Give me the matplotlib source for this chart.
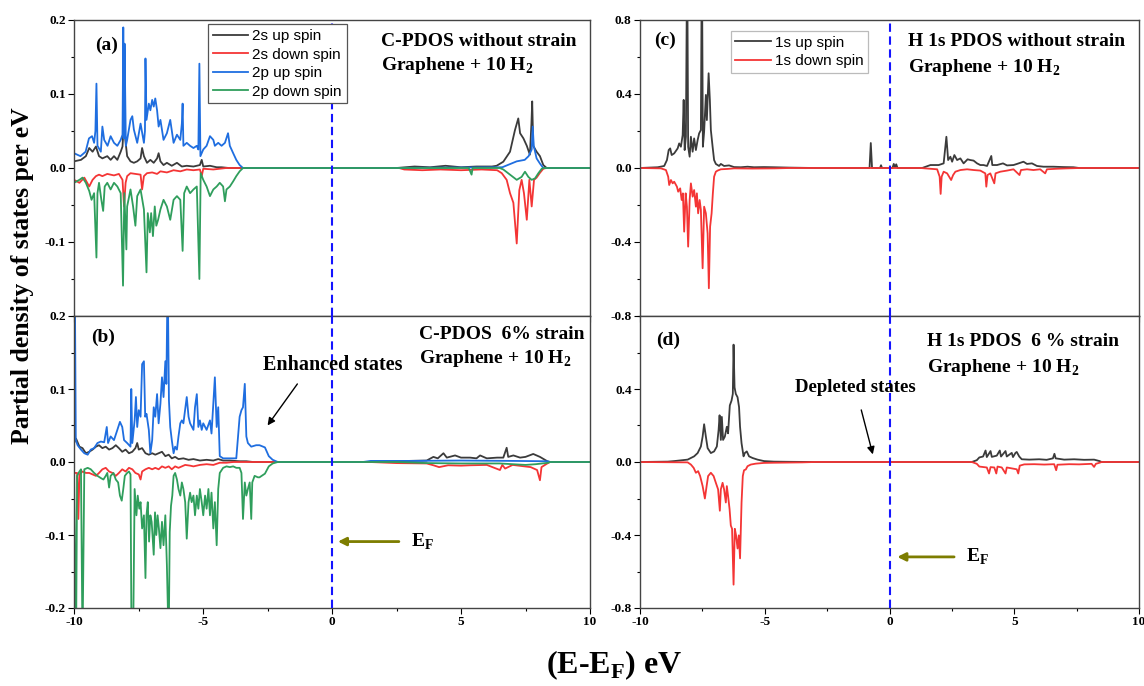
import numpy as np
import matplotlib
matplotlib.use("Agg")
import matplotlib.pyplot as plt
from matplotlib.ticker import MultipleLocator, FixedLocator

plt.rcParams['font.family'] = ['Liberation Serif', 'DejaVu Serif']
plt.rcParams['font.weight'] = 'bold'
plt.rcParams['axes.unicode_minus'] = False
plt.rcParams['mathtext.fontset'] = 'custom'
plt.rcParams['mathtext.rm'] = 'Liberation Serif:bold'
plt.rcParams['mathtext.bf'] = 'Liberation Serif:bold'

# ---- data (energy in eV, PDOS per eV) ----
# panel (a): C PDOS, no strain
a_2s_up = [(-10.0, 0.009), (-9.73, 0.011), (-9.54, 0.016), (-9.41, 0.027), (-9.28, 0.022), (-9.15, 0.029),
           (-9.03, 0.016), (-8.9, 0.013), (-8.71, 0.016), (-8.58, 0.011), (-8.45, 0.016), (-8.32, 0.011),
           (-8.19, 0.022), (-8.12, 0.029), (-8.06, 0.065), (-8.01, 0.038), (-7.94, 0.016), (-7.81, 0.009),
           (-7.68, 0.007), (-7.55, 0.009), (-7.42, 0.013), (-7.36, 0.027), (-7.29, 0.016), (-7.17, 0.007),
           (-7.04, 0.011), (-6.91, 0.007), (-6.78, 0.013), (-6.72, 0.020), (-6.65, 0.009), (-6.53, 0.004),
           (-6.4, 0.007), (-6.21, 0.003), (-6.01, 0.007), (-5.82, 0.002), (-5.63, 0.003), (-5.37, 0.002),
           (-5.12, 0.004), (-5.05, 0.011), (-4.99, 0.002), (-4.73, 0.003), (-4.47, 0.001), (-4.28, 0.001),
           (-4.0, 0.0), (2.5, 0.0), (3.2, 0.002), (3.8, 0.001), (4.4, 0.003), (5.0, 0.001), (5.6, 0.002),
           (6.2, 0.002), (6.38, 0.003), (6.64, 0.0085), (6.9, 0.022), (7.09, 0.051), (7.22, 0.067),
           (7.29, 0.047), (7.42, 0.040), (7.55, 0.030), (7.67, 0.018), (7.73, 0.060), (7.76, 0.090),
           (7.8, 0.030), (7.93, 0.022), (8.06, 0.016), (8.19, 0.004), (8.32, 0.0), (10.0, 0.0)]
a_2s_down = [(-10.0, -0.016), (-9.79, -0.020), (-9.6, -0.013), (-9.41, -0.025), (-9.28, -0.016), (-9.15, -0.011),
             (-9.03, -0.009), (-8.9, -0.011), (-8.71, -0.008), (-8.45, -0.010), (-8.26, -0.008), (-8.12, -0.016),
             (-8.06, -0.052), (-8.0, -0.020), (-7.94, -0.011), (-7.81, -0.007), (-7.62, -0.008), (-7.42, -0.009),
             (-7.36, -0.029), (-7.29, -0.011), (-7.17, -0.007), (-6.97, -0.006), (-6.78, -0.008), (-6.65, -0.0045),
             (-6.4, -0.006), (-6.14, -0.003), (-5.88, -0.0045), (-5.63, -0.002), (-5.37, -0.003), (-5.12, -0.002),
             (-5.05, -0.011), (-4.99, -0.001), (-4.6, -0.002), (-4.35, -0.001), (-4.1, 0.0), (2.6, 0.0),
             (2.8, -0.002), (3.5, -0.003), (4.2, -0.002), (5.0, -0.003), (5.8, -0.002), (6.4, -0.003),
             (6.58, -0.007), (6.77, -0.016), (6.9, -0.034), (7.03, -0.047), (7.16, -0.102), (7.26, -0.030),
             (7.35, -0.016), (7.44, -0.034), (7.55, -0.070), (7.65, -0.016), (7.74, -0.052), (7.83, -0.016),
             (7.93, -0.013), (8.06, -0.0065), (8.19, -0.001), (8.3, 0.0), (10.0, 0.0)]
a_2p_up = [(-10.0, 0.020), (-9.75, 0.016), (-9.55, 0.022), (-9.42, 0.040), (-9.3, 0.043), (-9.22, 0.034),
           (-9.17, 0.050), (-9.13, 0.114), (-9.09, 0.030), (-8.96, 0.022), (-8.9, 0.056), (-8.83, 0.038),
           (-8.7, 0.030), (-8.58, 0.043), (-8.45, 0.034), (-8.32, 0.030), (-8.19, 0.038), (-8.12, 0.045),
           (-8.09, 0.190), (-8.06, 0.040), (-8.04, 0.168), (-7.99, 0.030), (-7.94, 0.038), (-7.81, 0.065),
           (-7.74, 0.070), (-7.68, 0.052), (-7.55, 0.034), (-7.42, 0.060), (-7.29, 0.034), (-7.25, 0.050),
           (-7.23, 0.148), (-7.19, 0.065), (-7.1, 0.087), (-7.04, 0.078), (-6.97, 0.092), (-6.91, 0.083),
           (-6.85, 0.094), (-6.78, 0.078), (-6.72, 0.056), (-6.65, 0.065), (-6.53, 0.038), (-6.4, 0.047),
           (-6.27, 0.065), (-6.14, 0.034), (-6.01, 0.045), (-5.88, 0.038), (-5.82, 0.060), (-5.79, 0.087),
           (-5.76, 0.030), (-5.63, 0.034), (-5.5, 0.030), (-5.37, 0.027), (-5.24, 0.030), (-5.18, 0.025),
           (-5.14, 0.141), (-5.1, 0.016), (-4.99, 0.025), (-4.86, 0.030), (-4.73, 0.043), (-4.6, 0.038),
           (-4.54, 0.030), (-4.41, 0.034), (-4.28, 0.030), (-4.15, 0.034), (-4.03, 0.047), (-3.96, 0.030),
           (-3.83, 0.020), (-3.71, 0.011), (-3.58, 0.004), (-3.45, 0.0), (2.0, 0.0), (6.6, 0.001),
           (7.16, 0.009), (7.47, 0.011), (7.62, 0.016), (7.74, 0.025), (7.78, 0.056), (7.82, 0.030),
           (7.93, 0.013), (8.06, 0.006), (8.19, 0.0), (10.0, 0.0)]
a_2p_down = [(-10.0, -0.020), (-9.79, -0.016), (-9.67, -0.013), (-9.54, -0.020), (-9.41, -0.031), (-9.32, -0.043),
             (-9.22, -0.034), (-9.13, -0.121), (-9.09, -0.034), (-9.03, -0.020), (-8.94, -0.043), (-8.87, -0.058),
             (-8.81, -0.025), (-8.71, -0.020), (-8.58, -0.029), (-8.45, -0.020), (-8.32, -0.025), (-8.19, -0.034),
             (-8.1, -0.159), (-8.05, -0.034), (-7.97, -0.110), (-7.94, -0.052), (-7.81, -0.029), (-7.71, -0.052),
             (-7.62, -0.078), (-7.55, -0.038), (-7.42, -0.029), (-7.29, -0.056), (-7.19, -0.141), (-7.14, -0.061),
             (-7.06, -0.087), (-7.01, -0.061), (-6.94, -0.092), (-6.87, -0.052), (-6.81, -0.078), (-6.74, -0.070),
             (-6.65, -0.056), (-6.53, -0.043), (-6.4, -0.052), (-6.27, -0.070), (-6.14, -0.043), (-6.01, -0.038),
             (-5.88, -0.043), (-5.79, -0.112), (-5.73, -0.034), (-5.63, -0.025), (-5.5, -0.034), (-5.37, -0.029),
             (-5.24, -0.025), (-5.14, -0.150), (-5.09, -0.007), (-4.99, -0.016), (-4.86, -0.025), (-4.73, -0.038),
             (-4.6, -0.029), (-4.47, -0.025), (-4.35, -0.020), (-4.22, -0.025), (-4.15, -0.045), (-4.09, -0.029),
             (-3.96, -0.025), (-3.83, -0.018), (-3.71, -0.011), (-3.58, -0.0045), (-3.45, 0.0), (5.3, 0.0),
             (5.41, -0.009), (5.45, 0.0), (6.5, 0.0), (6.64, -0.002), (6.9, -0.009), (7.16, -0.016),
             (7.35, -0.012), (7.48, -0.005), (7.61, -0.012), (7.74, -0.016), (7.87, -0.014), (8.0, -0.007),
             (8.13, -0.001), (8.2, 0.0), (10.0, 0.0)]

# panel (b): C PDOS, 6% strain
b_2s_up = [(-10.0, 0.026), (-9.92, 0.032), (-9.79, 0.021), (-9.67, 0.019), (-9.54, 0.012), (-9.41, 0.014),
           (-9.28, 0.017), (-9.15, 0.021), (-9.03, 0.023), (-8.9, 0.019), (-8.77, 0.021), (-8.64, 0.017),
           (-8.51, 0.019), (-8.38, 0.023), (-8.26, 0.019), (-8.13, 0.014), (-8.0, 0.017), (-7.87, 0.012),
           (-7.74, 0.014), (-7.62, 0.019), (-7.55, 0.026), (-7.49, 0.017), (-7.36, 0.019), (-7.23, 0.012),
           (-7.1, 0.010), (-6.97, 0.012), (-6.85, 0.010), (-6.72, 0.012), (-6.59, 0.014), (-6.46, 0.008),
           (-6.33, 0.010), (-6.21, 0.005), (-6.08, 0.007), (-5.95, 0.004), (-5.76, 0.005), (-5.56, 0.003),
           (-5.37, 0.004), (-5.12, 0.002), (-4.86, 0.003), (-4.6, 0.002), (-4.41, 0.004), (-4.22, 0.002),
           (-3.96, 0.002), (-3.58, 0.001), (-3.32, 0.001), (-3.06, 0.0), (1.47, 0.0), (2.5, 0.001),
           (3.0, 0.0015), (3.67, 0.002), (3.93, 0.007), (4.1, 0.005), (4.32, 0.012), (4.45, 0.006),
           (4.77, 0.009), (5.0, 0.006), (5.35, 0.006), (5.6, 0.005), (5.74, 0.009), (6.0, 0.005),
           (6.4, 0.006), (6.64, 0.006), (6.77, 0.0195), (6.83, 0.007), (7.03, 0.009), (7.29, 0.006),
           (7.5, 0.007), (7.8, 0.011), (8.06, 0.007), (8.3, 0.002), (8.39, 0.0), (10.0, 0.0)]
b_2s_down = [(-10.0, -0.015), (-9.88, -0.015), (-9.83, -0.078), (-9.79, -0.017), (-9.67, -0.013), (-9.54, -0.015),
             (-9.41, -0.015), (-9.28, -0.017), (-9.15, -0.019), (-9.03, -0.015), (-8.9, -0.010), (-8.77, -0.008),
             (-8.64, -0.013), (-8.51, -0.015), (-8.38, -0.019), (-8.26, -0.015), (-8.13, -0.010), (-8.0, -0.013),
             (-7.87, -0.008), (-7.74, -0.010), (-7.62, -0.015), (-7.49, -0.017), (-7.42, -0.024), (-7.36, -0.013),
             (-7.23, -0.010), (-7.1, -0.008), (-6.97, -0.010), (-6.85, -0.008), (-6.72, -0.010), (-6.59, -0.006),
             (-6.46, -0.008), (-6.33, -0.006), (-6.21, -0.010), (-6.08, -0.006), (-5.95, -0.008), (-5.82, -0.006),
             (-5.69, -0.004), (-5.5, -0.005), (-5.37, -0.006), (-5.12, -0.004), (-4.86, -0.003), (-4.6, -0.004),
             (-4.35, -0.001), (-4.09, -0.001), (-3.83, 0.0), (1.47, 0.0), (2.5, -0.0015), (3.67, -0.002),
             (3.93, -0.0045), (4.15, -0.007), (4.5, -0.0045), (5.0, -0.005), (5.35, -0.0045), (6.0, -0.004),
             (6.51, -0.011), (6.6, -0.004), (6.71, -0.009), (7.0, -0.004), (7.7, -0.007), (7.95, -0.011),
             (8.06, -0.025), (8.12, -0.007), (8.39, -0.001), (8.45, 0.0), (10.0, 0.0)]
b_2p_up = [(-10.0, 0.020), (-9.97, 0.26), (-9.93, 0.030), (-9.86, 0.023), (-9.73, 0.017), (-9.6, 0.012),
           (-9.47, 0.010), (-9.35, 0.017), (-9.22, 0.019), (-9.09, 0.026), (-8.96, 0.028), (-8.83, 0.027),
           (-8.73, 0.048), (-8.68, 0.026), (-8.58, 0.035), (-8.45, 0.030), (-8.32, 0.044), (-8.22, 0.055),
           (-8.13, 0.048), (-8.06, 0.030), (-7.94, 0.026), (-7.81, 0.021), (-7.78, 0.100), (-7.74, 0.026),
           (-7.65, 0.057), (-7.6, 0.089), (-7.55, 0.048), (-7.49, 0.071), (-7.42, 0.062), (-7.36, 0.134),
           (-7.29, 0.138), (-7.24, 0.062), (-7.19, 0.066), (-7.1, 0.044), (-7.04, 0.012), (-6.97, 0.030),
           (-6.91, 0.075), (-6.85, 0.062), (-6.78, 0.093), (-6.72, 0.053), (-6.65, 0.080), (-6.59, 0.116),
           (-6.53, 0.089), (-6.46, 0.138), (-6.42, 0.107), (-6.37, 0.26), (-6.32, 0.084), (-6.27, 0.048),
           (-6.21, 0.030), (-6.14, 0.012), (-6.08, 0.021), (-6.01, 0.017), (-5.95, 0.035), (-5.88, 0.053),
           (-5.82, 0.057), (-5.76, 0.053), (-5.63, 0.089), (-5.56, 0.062), (-5.5, 0.053), (-5.37, 0.044),
           (-5.31, 0.075), (-5.24, 0.093), (-5.18, 0.048), (-5.12, 0.057), (-5.05, 0.044), (-4.99, 0.053),
           (-4.86, 0.044), (-4.73, 0.057), (-4.67, 0.039), (-4.6, 0.080), (-4.54, 0.116), (-4.47, 0.048),
           (-4.41, 0.075), (-4.35, 0.008), (-4.22, 0.005), (-3.96, 0.005), (-3.71, 0.005), (-3.58, 0.062),
           (-3.51, 0.071), (-3.45, 0.075), (-3.38, 0.107), (-3.32, 0.035), (-3.26, 0.026), (-3.13, 0.021),
           (-2.94, 0.023), (-2.81, 0.023), (-2.6, 0.020), (-2.45, 0.008), (-2.3, 0.003), (-2.1, 0.0),
           (1.2, 0.0), (1.5, 0.0015), (3.0, 0.0015), (5.0, 0.002), (7.0, 0.0015), (8.39, 0.001),
           (8.45, 0.0), (10.0, 0.0)]
b_2p_down = [(-10.0, -0.015), (-9.92, -0.25), (-9.88, -0.019), (-9.79, -0.013), (-9.73, -0.010), (-9.67, -0.25),
             (-9.6, -0.010), (-9.47, -0.008), (-9.35, -0.010), (-9.22, -0.015), (-9.09, -0.019), (-8.96, -0.022),
             (-8.86, -0.024), (-8.77, -0.019), (-8.71, -0.015), (-8.64, -0.035), (-8.58, -0.019), (-8.47, -0.015),
             (-8.38, -0.024), (-8.29, -0.028), (-8.22, -0.046), (-8.15, -0.053), (-8.09, -0.037), (-8.03, -0.019),
             (-7.94, -0.015), (-7.87, -0.013), (-7.81, -0.017), (-7.77, -0.25), (-7.71, -0.25), (-7.65, -0.037),
             (-7.58, -0.073), (-7.53, -0.046), (-7.47, -0.064), (-7.42, -0.055), (-7.36, -0.091), (-7.29, -0.073),
             (-7.23, -0.159), (-7.19, -0.073), (-7.14, -0.055), (-7.09, -0.109), (-7.04, -0.073), (-6.99, -0.082),
             (-6.91, -0.127), (-6.86, -0.069), (-6.81, -0.100), (-6.76, -0.073), (-6.71, -0.091), (-6.65, -0.118),
             (-6.59, -0.082), (-6.53, -0.114), (-6.46, -0.073), (-6.4, -0.141), (-6.33, -0.25), (-6.29, -0.096),
             (-6.24, -0.060), (-6.19, -0.046), (-6.14, -0.019), (-6.08, -0.015), (-6.01, -0.024), (-5.95, -0.037),
             (-5.88, -0.046), (-5.82, -0.028), (-5.76, -0.037), (-5.69, -0.055), (-5.63, -0.105), (-5.56, -0.055),
             (-5.5, -0.042), (-5.44, -0.055), (-5.37, -0.046), (-5.31, -0.073), (-5.24, -0.046), (-5.18, -0.064),
             (-5.12, -0.037), (-5.05, -0.055), (-4.99, -0.073), (-4.92, -0.046), (-4.86, -0.064), (-4.79, -0.037),
             (-4.73, -0.073), (-4.67, -0.042), (-4.6, -0.091), (-4.54, -0.055), (-4.47, -0.114), (-4.41, -0.037),
             (-4.35, -0.015), (-4.22, -0.008), (-4.09, -0.006), (-3.96, -0.007), (-3.83, -0.006), (-3.71, -0.008),
             (-3.58, -0.008), (-3.51, -0.015), (-3.45, -0.078), (-3.38, -0.028), (-3.32, -0.046), (-3.26, -0.037),
             (-3.19, -0.028), (-3.13, -0.078), (-3.09, -0.028), (-3.0, -0.019), (-2.87, -0.021), (-2.81, -0.021),
             (-2.6, -0.016), (-2.45, -0.006), (-2.3, -0.002), (-2.1, 0.0), (2.5, 0.0), (3.7, -0.0015),
             (5.0, -0.002), (6.5, -0.002), (7.5, -0.004), (7.9, -0.003), (8.39, -0.001), (8.45, 0.0), (10.0, 0.0)]

# panel (c): H 1s PDOS, no strain
c_1s_up = [(-10.0, 0.0), (-9.29, 0.004), (-9.03, 0.011), (-8.92, 0.043), (-8.85, 0.097), (-8.79, 0.106),
           (-8.73, 0.070), (-8.63, 0.079), (-8.49, 0.106), (-8.43, 0.133), (-8.36, 0.115), (-8.29, 0.178),
           (-8.25, 0.368), (-8.21, 0.097), (-8.16, 0.169), (-8.11, 1.2), (-8.07, 0.115), (-8.01, 0.061),
           (-7.96, 0.169), (-7.89, 0.088), (-7.83, 0.160), (-7.76, 0.097), (-7.69, 0.151), (-7.63, 0.187),
           (-7.56, 0.205), (-7.52, 1.2), (-7.48, 0.115), (-7.43, 0.196), (-7.36, 0.395), (-7.32, 0.259),
           (-7.25, 0.512), (-7.2, 0.368), (-7.16, 0.205), (-7.09, 0.115), (-7.03, 0.043), (-6.96, 0.022),
           (-6.83, 0.011), (-6.76, 0.022), (-6.63, 0.011), (-6.43, 0.014), (-6.23, 0.005), (-5.96, 0.004),
           (-5.69, 0.007), (-5.43, 0.004), (-5.03, 0.005), (-4.63, 0.004), (-4.0, 0.002), (-3.0, 0.0),
           (-0.8, 0.0), (-0.75, 0.135), (-0.7, 0.0), (-0.38, 0.0), (-0.34, 0.015), (-0.3, 0.0),
           (0.12, 0.0), (0.17, 0.022), (0.22, 0.005), (0.27, 0.020), (0.32, 0.0), (1.31, 0.0),
           (1.64, 0.016), (1.97, 0.016), (2.17, 0.025), (2.28, 0.169), (2.35, 0.043), (2.44, 0.061),
           (2.51, 0.034), (2.6, 0.070), (2.71, 0.043), (2.84, 0.052), (2.97, 0.025), (3.13, 0.047),
           (3.24, 0.043), (3.37, 0.040), (3.51, 0.025), (3.64, 0.016), (3.77, 0.016), (3.91, 0.011),
           (4.08, 0.065), (4.12, 0.016), (4.31, 0.016), (4.55, 0.025), (4.71, 0.014), (4.97, 0.016),
           (5.11, 0.022), (5.37, 0.034), (5.51, 0.022), (5.71, 0.025), (5.91, 0.011), (6.17, 0.007),
           (6.57, 0.007), (6.97, 0.005), (7.37, 0.004), (7.6, 0.0), (10.0, 0.0)]
c_1s_down = [(-10.0, 0.0), (-9.16, -0.002), (-8.96, -0.011), (-8.87, -0.047), (-8.83, -0.092), (-8.76, -0.065),
             (-8.69, -0.083), (-8.63, -0.074), (-8.52, -0.101), (-8.47, -0.128), (-8.39, -0.110), (-8.33, -0.173),
             (-8.28, -0.137), (-8.23, -0.344), (-8.17, -0.137), (-8.12, -0.209), (-8.07, -0.425), (-8.01, -0.173),
             (-7.96, -0.083), (-7.89, -0.155), (-7.83, -0.119), (-7.76, -0.209), (-7.72, -0.137), (-7.67, -0.245),
             (-7.61, -0.173), (-7.56, -0.227), (-7.49, -0.542), (-7.43, -0.209), (-7.36, -0.245), (-7.29, -0.353),
             (-7.24, -0.650), (-7.19, -0.317), (-7.13, -0.245), (-7.08, -0.137), (-7.03, -0.047), (-6.96, -0.020),
             (-6.89, -0.014), (-6.76, -0.007), (-6.49, -0.005), (-6.23, -0.002), (-5.5, -0.003), (-4.6, -0.002),
             (-4.0, 0.0), (1.24, 0.0), (1.91, -0.007), (2.01, -0.047), (2.05, -0.140), (2.09, -0.047),
             (2.17, -0.020), (2.31, -0.029), (2.47, -0.065), (2.55, -0.038), (2.64, -0.020), (2.84, -0.011),
             (3.11, -0.007), (3.37, -0.011), (3.64, -0.014), (3.84, -0.029), (3.88, -0.101), (3.93, -0.038),
             (4.04, -0.029), (4.2, -0.083), (4.25, -0.029), (4.44, -0.020), (4.71, -0.014), (4.97, -0.007),
             (5.21, -0.038), (5.27, -0.011), (5.51, -0.007), (5.77, -0.011), (6.04, -0.007), (6.24, -0.029),
             (6.31, -0.007), (6.71, -0.004), (7.11, -0.002), (7.64, 0.0), (10.0, 0.0)]

# panel (d): H 1s PDOS, 6% strain
d_1s_up = [(-10.0, 0.0), (-8.89, 0.002), (-8.63, 0.005), (-8.36, 0.009), (-8.09, 0.013), (-7.96, 0.022),
           (-7.83, 0.031), (-7.69, 0.049), (-7.56, 0.085), (-7.49, 0.139), (-7.43, 0.207), (-7.36, 0.139),
           (-7.29, 0.076), (-7.16, 0.049), (-7.03, 0.058), (-6.92, 0.085), (-6.85, 0.175), (-6.81, 0.256),
           (-6.76, 0.121), (-6.72, 0.247), (-6.67, 0.121), (-6.6, 0.139), (-6.52, 0.193), (-6.47, 0.157),
           (-6.4, 0.310), (-6.33, 0.337), (-6.28, 0.373), (-6.25, 0.643), (-6.21, 0.409), (-6.16, 0.373),
           (-6.09, 0.355), (-6.03, 0.301), (-5.99, 0.193), (-5.93, 0.103), (-5.85, 0.031), (-5.8, 0.049),
           (-5.72, 0.058), (-5.63, 0.031), (-5.49, 0.022), (-5.29, 0.013), (-5.03, 0.005), (-4.63, 0.002),
           (-4.0, 0.001), (-3.0, 0.0), (3.3, 0.0), (3.5, 0.010), (3.6, 0.025), (3.75, 0.030), (3.85, 0.063),
           (3.9, 0.027), (4.05, 0.060), (4.1, 0.028), (4.3, 0.035), (4.42, 0.063), (4.47, 0.030), (4.65, 0.060),
           (4.7, 0.030), (4.9, 0.050), (4.95, 0.027), (5.05, 0.050), (5.1, 0.055), (5.2, 0.030), (5.3, 0.015),
           (5.6, 0.013), (6.0, 0.015), (6.3, 0.012), (6.55, 0.020), (6.61, 0.045), (6.66, 0.020), (7.0, 0.013),
           (7.4, 0.015), (7.8, 0.012), (8.2, 0.013), (8.42, 0.005), (8.5, 0.0), (10.0, 0.0)]
d_1s_down = [(-10.0, 0.0), (-8.09, -0.002), (-7.96, -0.014), (-7.85, -0.032), (-7.76, -0.059), (-7.67, -0.050),
             (-7.59, -0.077), (-7.49, -0.132), (-7.4, -0.200), (-7.33, -0.132), (-7.27, -0.077), (-7.16, -0.059),
             (-7.05, -0.077), (-6.96, -0.114), (-6.87, -0.150), (-6.8, -0.267), (-6.76, -0.150), (-6.69, -0.114),
             (-6.63, -0.150), (-6.56, -0.222), (-6.52, -0.132), (-6.47, -0.186), (-6.41, -0.258), (-6.36, -0.348),
             (-6.31, -0.366), (-6.25, -0.672), (-6.2, -0.366), (-6.15, -0.402), (-6.09, -0.474), (-6.04, -0.402),
             (-5.99, -0.528), (-5.93, -0.222), (-5.88, -0.077), (-5.83, -0.045), (-5.76, -0.041), (-5.69, -0.023),
             (-5.56, -0.014), (-5.36, -0.009), (-5.03, -0.005), (-4.63, -0.004), (-3.5, -0.002), (-3.0, 0.0),
             (3.3, 0.0), (3.5, -0.010), (3.6, -0.025), (3.9, -0.030), (3.99, -0.063), (4.05, -0.028),
             (4.2, -0.030), (4.28, -0.063), (4.33, -0.025), (4.5, -0.030), (4.65, -0.063), (4.7, -0.030),
             (4.9, -0.035), (5.1, -0.040), (5.16, -0.063), (5.22, -0.020), (5.4, -0.013), (5.8, -0.012),
             (6.2, -0.014), (6.6, -0.012), (6.68, -0.045), (6.73, -0.015), (7.2, -0.012), (7.6, -0.013),
             (8.1, -0.010), (8.2, -0.027), (8.27, -0.010), (8.42, -0.004), (8.5, 0.0), (10.0, 0.0)]

labels_c = ['2s up spin', '2s down spin', '2p up spin', '2p down spin']
labels_h = ['1s up spin', '1s down spin']
xticks = [-10, -5, 0, 5, 10]

c_black = '#3b3b3b'
c_red = '#f43535'
c_blue = '#1f6ee0'
c_green = '#2f9e5c'
c_dash = '#1414ff'
c_olive = '#7d7d00'

fig = plt.figure(figsize=(11.44, 6.86), dpi=100)
W, H = 1144, 686
def rect(x0, x1, y0, y1):
    return [x0 / W, 1 - y1 / H, (x1 - x0) / W, (y1 - y0) / H]

ax_a = fig.add_axes(rect(74, 590, 20, 316))
ax_b = fig.add_axes(rect(74, 590, 316, 608))
ax_c = fig.add_axes(rect(640, 1139, 20, 316))
ax_d = fig.add_axes(rect(640, 1139, 316, 608))

def draw(ax, series, colors, labels):
    lines = []
    for s, col, lab in zip(series, colors, labels):
        e, v = np.array(s).T
        ln, = ax.plot(e, v, color=col, lw=1.3, label=lab, zorder=2)
        lines.append(ln)
    ax.axvline(0, color=c_dash, lw=1.5, ls=(0, (4, 2.2)), zorder=3)
    return lines

la = draw(ax_a, [a_2s_up, a_2s_down, a_2p_up, a_2p_down], [c_black, c_red, c_blue, c_green], labels_c)
draw(ax_b, [b_2s_up, b_2s_down, b_2p_up, b_2p_down], [c_black, c_red, c_blue, c_green], labels_c)
lc = draw(ax_c, [c_1s_up, c_1s_down], [c_black, c_red], labels_h)
draw(ax_d, [d_1s_up, d_1s_down], [c_black, c_red], labels_h)

for ax in (ax_a, ax_b, ax_c, ax_d):
    ax.set_xlim(-10, 10)
    ax.xaxis.set_major_locator(FixedLocator(xticks))
    ax.xaxis.set_minor_locator(MultipleLocator(2.5))
    ax.tick_params(which='major', direction='out', length=4, width=0.8, labelsize=9.5, pad=2)
    ax.tick_params(which='minor', direction='out', length=2.5, width=0.8)
    for sp in ax.spines.values():
        sp.set_color('#444444')
        sp.set_linewidth(1.0)

ax_a.set_ylim(-0.2, 0.2)
ax_b.set_ylim(-0.2, 0.2)
ax_c.set_ylim(-0.8, 0.8)
ax_d.set_ylim(-0.8, 0.8)
ax_a.set_yticks([-0.1, 0.0, 0.1, 0.2])
ax_b.set_yticks([-0.2, -0.1, 0.0, 0.1, 0.2])
ax_c.set_yticks([-0.8, -0.4, 0.0, 0.4, 0.8])
ax_d.set_yticks([-0.8, -0.4, 0.0, 0.4])
for ax in (ax_a, ax_b):
    ax.yaxis.set_minor_locator(MultipleLocator(0.05))
    ax.yaxis.set_major_formatter(plt.FormatStrFormatter('%.1f'))
for ax in (ax_c, ax_d):
    ax.yaxis.set_minor_locator(MultipleLocator(0.2))
    ax.yaxis.set_major_formatter(plt.FormatStrFormatter('%.1f'))
ax_a.tick_params(axis='x', labelbottom=False)
ax_c.tick_params(axis='x', labelbottom=False)

# legends
leg_font = {'family': 'Liberation Sans', 'weight': 'normal', 'size': 11}
leg = ax_a.legend(handles=la, loc='upper left', bbox_to_anchor=(0.26, 0.985), prop=leg_font,
                  frameon=True, fancybox=False, framealpha=1, edgecolor='#555555',
                  borderaxespad=0, borderpad=0.3, labelspacing=0.3, handlelength=2.3, handletextpad=0.3)
leg.get_frame().set_linewidth(0.9)
leg.set_zorder(5)
leg = ax_c.legend(handles=lc, loc='upper left', bbox_to_anchor=(0.182, 0.963), prop=leg_font,
                  frameon=True, fancybox=False, framealpha=1, edgecolor='#bbbbbb',
                  borderaxespad=0, borderpad=0.3, labelspacing=0.3, handlelength=2.3, handletextpad=0.3)
leg.get_frame().set_linewidth(0.9)
leg.set_zorder(5)

# panel labels and captions
tfs = 14
ax_a.text(0.064, 0.916, '(a)', transform=ax_a.transAxes, fontsize=14, ha='center', va='center')
ax_a.text(0.595, 0.929, 'C-PDOS without strain', transform=ax_a.transAxes, fontsize=tfs, va='center')
ax_a.text(0.595, 0.846, r'Graphene + 10 H$_2$', transform=ax_a.transAxes, fontsize=tfs, va='center')

ax_b.text(0.056, 0.928, '(b)', transform=ax_b.transAxes, fontsize=14, ha='center', va='center')
ax_b.text(0.669, 0.938, 'C-PDOS  6% strain', transform=ax_b.transAxes, fontsize=tfs, va='center')
ax_b.text(0.669, 0.853, r'Graphene + 10 H$_2$', transform=ax_b.transAxes, fontsize=tfs, va='center')

ax_c.text(0.05, 0.932, '(c)', transform=ax_c.transAxes, fontsize=14, ha='center', va='center')
ax_c.text(0.537, 0.926, 'H 1s PDOS without strain', transform=ax_c.transAxes, fontsize=tfs, va='center')
ax_c.text(0.537, 0.841, r'Graphene + 10 H$_2$', transform=ax_c.transAxes, fontsize=tfs, va='center')

ax_d.text(0.056, 0.918, '(d)', transform=ax_d.transAxes, fontsize=14, ha='center', va='center')
ax_d.text(0.575, 0.911, 'H 1s PDOS  6 % strain', transform=ax_d.transAxes, fontsize=tfs, va='center')
ax_d.text(0.575, 0.825, r'Graphene + 10 H$_2$', transform=ax_d.transAxes, fontsize=tfs, va='center')

# annotations
ax_b.annotate('', xy=(-2.56, 0.047), xytext=(-1.28, 0.11),
              arrowprops=dict(arrowstyle='-|>', color='black', lw=1.0, mutation_scale=11))
ax_b.text(0.04, 0.133, 'Enhanced states', fontsize=14.5, ha='center', va='center')
ax_d.annotate('', xy=(-0.64, 0.027), xytext=(-1.16, 0.30),
              arrowprops=dict(arrowstyle='-|>', color='black', lw=1.0, mutation_scale=11))
ax_d.text(-1.36, 0.41, 'Depleted states', fontsize=13.5, ha='center', va='center')

ax_b.annotate('', xy=(0.12, -0.109), xytext=(2.7, -0.109),
              arrowprops=dict(arrowstyle='-|>', color=c_olive, lw=2.0, mutation_scale=12))
ax_b.text(3.05, -0.109, r'E$_{\rm F}$', fontsize=14, va='center')
ax_d.annotate('', xy=(0.2, -0.52), xytext=(2.7, -0.52),
              arrowprops=dict(arrowstyle='-|>', color=c_olive, lw=2.0, mutation_scale=12))
ax_d.text(3.05, -0.52, r'E$_{\rm F}$', fontsize=14, va='center')

fig.text(0.02, 0.598, 'Partial density of states per eV', rotation=90, fontsize=18.5,
         ha='center', va='center')
fig.text(0.537, 0.03, r'(E-E$_{\rm F}$) eV', fontsize=23, ha='center', va='center')

fig.savefig('out.png', dpi=100)
